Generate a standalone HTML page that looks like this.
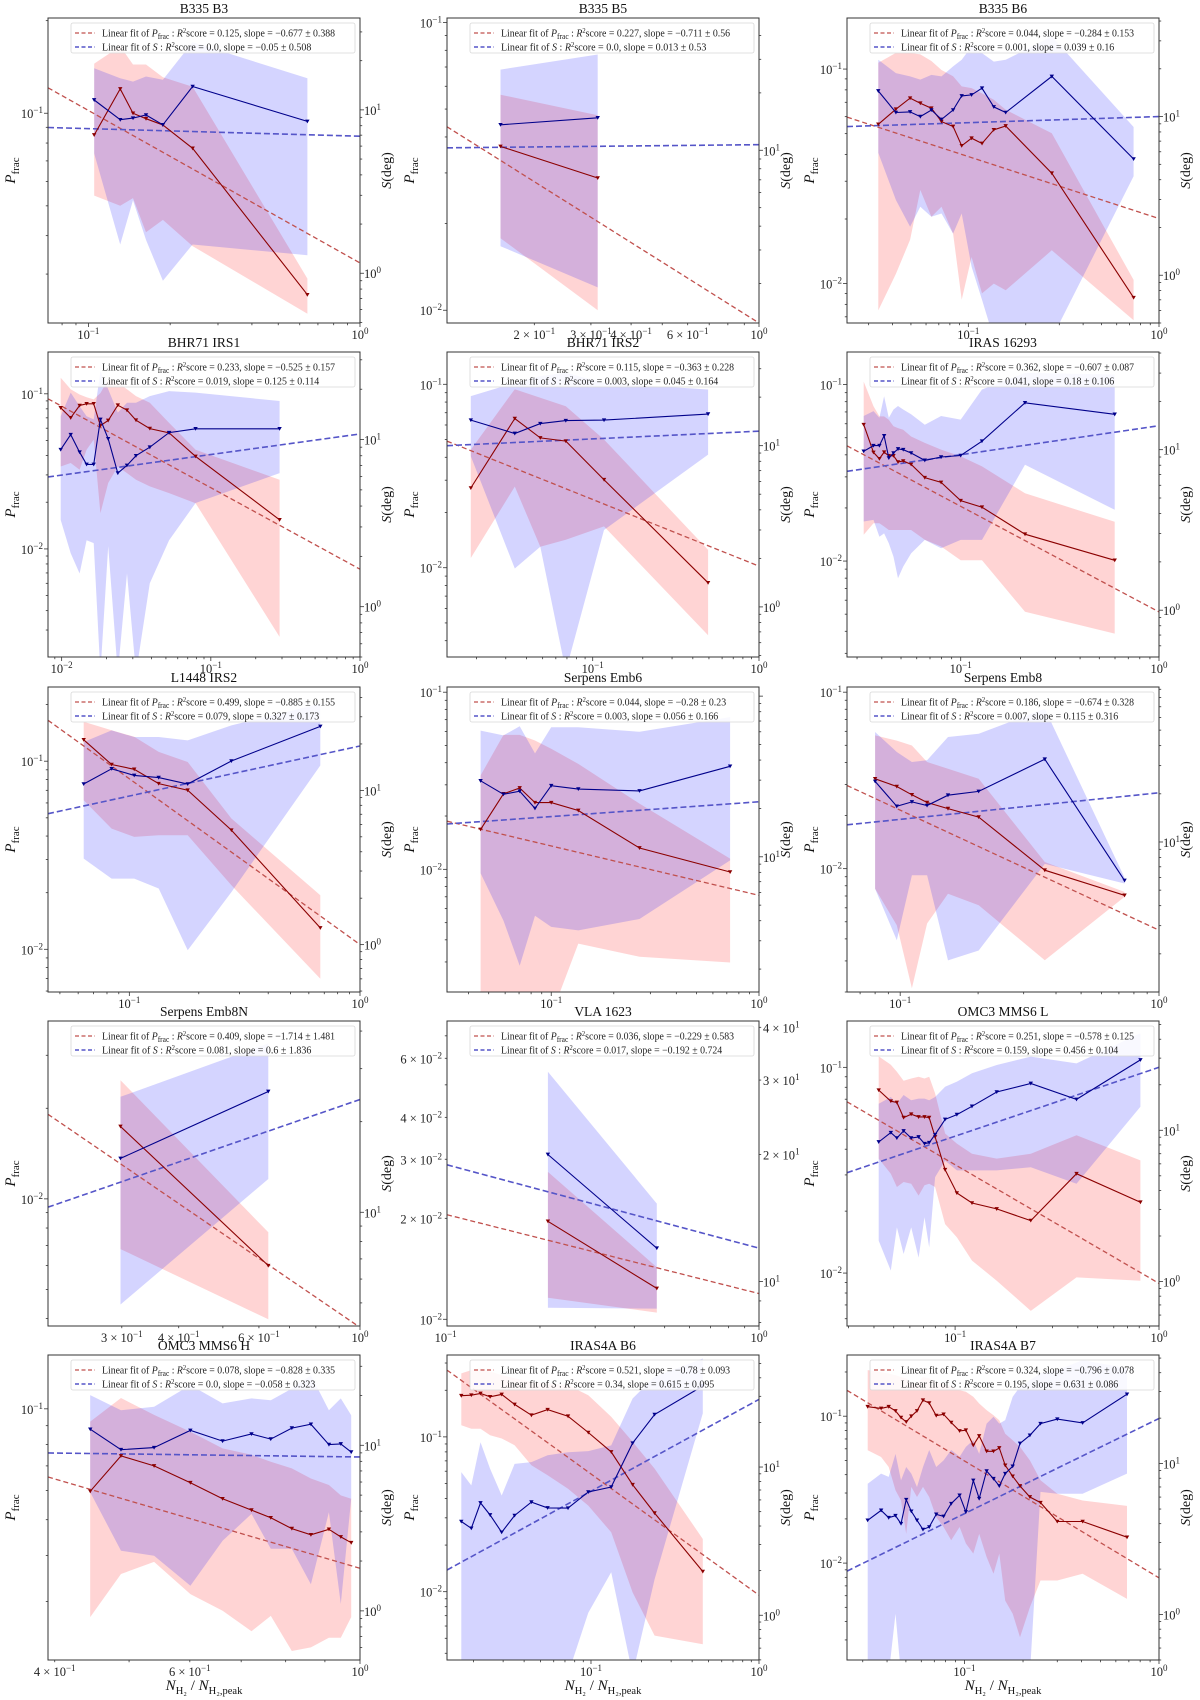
<!DOCTYPE html>
<html><head><meta charset="utf-8"><title>Pfrac and S vs N_H2 panels</title>
<style>
html,body{margin:0;padding:0;background:#fff;}
svg{display:block;font-family:"Liberation Serif","DejaVu Serif",serif;}
</style></head>
<body>
<svg id="fig" width="1200" height="1700" viewBox="0 0 1200 1700" xmlns="http://www.w3.org/2000/svg">
<rect x="0" y="0" width="1200" height="1700" fill="#ffffff"/>
</svg>
<script>
const titles = ["B335 B3","B335 B5","B335 B6","BHR71 IRS1","BHR71 IRS2","IRAS 16293","L1448 IRS2","Serpens Emb6","Serpens Emb8","Serpens Emb8N","VLA 1623","OMC3 MMS6 L","OMC3 MMS6 H","IRAS4A B6","IRAS4A B7"];
const xLims = [[0.071,1],[0.107,1],[0.0231,1],[0.0081,1],[0.0133,1],[0.0267,1],[0.0444,1],[0.0315,1],[0.0623,1],[0.2066,1],[0.101,1],[0.0295,1],[0.392,1],[0.0139,1],[0.0249,1]];
const pLims = [[0.0208,0.204],[0.00903,0.1036],[0.00655,0.173],[0.00201,0.186],[0.00326,0.150],[0.00286,0.153],[0.00593,0.248],[0.00203,0.107],[0.002,0.107],[0.00378,0.039],[0.00955,0.0775],[0.00553,0.168],[0.0208,0.140],[0.00362,0.338],[0.00219,0.261]];
const sLims = [[0.496,36.5],[1.242,49.4],[0.5,41.8],[0.5,33.4],[0.489,38.1],[0.511,40.6],[0.493,46.8],[1.44,114],[1.155,93],[4.19,43.2],[7.85,41.4],[0.508,52.8],[0.505,35.1],[0.499,57],[0.5,52.4]];

const xVals = [
[0.105,0.131,0.146,0.163,0.188,0.242,0.64],
[0.157,0.315],
[0.0337,0.0417,0.0495,0.056,0.064,0.0723,0.0832,0.0923,0.104,0.118,0.136,0.157,0.274,0.736],
[0.00985,0.0115,0.0132,0.0147,0.0164,0.0182,0.0205,0.0238,0.0274,0.0315,0.039,0.0525,0.079,0.289],
[0.0185,0.034,0.0484,0.0689,0.117,0.494],
[0.0324,0.0363,0.0389,0.0411,0.0434,0.0458,0.0483,0.0513,0.0562,0.0659,0.0796,0.1,0.128,0.211,0.598],
[0.0634,0.0838,0.105,0.134,0.179,0.277,0.673],
[0.0457,0.0589,0.0705,0.0835,0.1,0.135,0.266,0.726],
[0.080,0.097,0.111,0.127,0.153,0.201,0.362,0.736],
[0.298,0.629],
[0.212,0.472],
[0.0422,0.0484,0.0518,0.0559,0.0609,0.0662,0.0708,0.0746,0.0798,0.0893,0.102,0.121,0.16,0.235,0.394,0.811],
[0.445,0.488,0.539,0.601,0.662,0.722,0.765,0.815,0.863,0.911,0.944,0.974],
[0.0169,0.0194,0.022,0.0251,0.0294,0.0351,0.0442,0.0552,0.073,0.0964,0.132,0.177,0.239,0.463],
[0.0318,0.0373,0.0408,0.0442,0.0472,0.0502,0.0533,0.057,0.0612,0.0659,0.0716,0.0781,0.0855,0.0944,0.1017,0.111,0.119,0.130,0.141,0.151,0.162,0.177,0.193,0.217,0.246,0.300,0.405,0.685]
];
const pVals = [
[0.085,0.120,0.100,0.096,0.0916,0.0769,0.0257],
[0.0371,0.0288],
[0.0553,0.065,0.0732,0.0693,0.0657,0.0569,0.054,0.0439,0.0476,0.045,0.0521,0.0543,0.0327,0.0086],
[0.0812,0.070,0.084,0.0862,0.0862,0.0624,0.0673,0.0845,0.0784,0.0676,0.0597,0.056,0.0395,0.0154],
[0.0272,0.0651,0.051,0.049,0.0302,0.00828],
[0.0593,0.0413,0.038,0.0414,0.0395,0.0395,0.0364,0.0369,0.0353,0.0297,0.0279,0.022,0.0202,0.0142,0.0101],
[0.130,0.096,0.0906,0.076,0.0701,0.043,0.013],
[0.0168,0.0267,0.0288,0.0238,0.0238,0.0215,0.0132,0.00966],
[0.0323,0.0292,0.0262,0.0237,0.0219,0.0196,0.0098,0.00706],
[0.0174,0.006],
[0.0196,0.01236],
[0.0775,0.0685,0.0675,0.057,0.0592,0.0574,0.0574,0.057,0.0459,0.0318,0.0245,0.0219,0.0205,0.018,0.0304,0.0221],
[0.0597,0.0745,0.070,0.063,0.057,0.0531,0.0506,0.0473,0.0455,0.0471,0.0449,0.0433],
[0.1845,0.186,0.191,0.1815,0.188,0.162,0.138,0.150,0.136,0.1067,0.080,0.0491,0.0322,0.0135],
[0.116,0.113,0.116,0.1087,0.0979,0.0915,0.1,0.1087,0.1285,0.123,0.101,0.103,0.0906,0.0794,0.0803,0.0634,0.0734,0.0577,0.0577,0.0608,0.0463,0.039,0.0335,0.0282,0.0258,0.0192,0.0192,0.015]
];
const pHigh = [
[0.145,0.165,0.144,0.144,0.131,0.122,0.029],
[0.0561,0.0476],
[0.107,0.119,0.119,0.117,0.109,0.099,0.0925,0.083,0.0815,0.077,0.072,0.0646,0.0502,0.0104],
[0.127,0.107,0.099,0.095,0.092,0.101,0.124,0.118,0.107,0.0966,0.0875,0.0649,0.0436,0.0279],
[0.044,0.094,0.0845,0.076,0.05,0.0125],
[0.104,0.0754,0.066,0.066,0.0632,0.058,0.0567,0.0555,0.0508,0.0467,0.0428,0.0392,0.0344,0.0242,0.0167],
[0.162,0.146,0.135,0.112,0.099,0.0496,0.0194],
[0.0339,0.0574,0.0574,0.0534,0.0479,0.0394,0.0235,0.0115],
[0.0569,0.0532,0.0499,0.0402,0.0368,0.0323,0.0109,0.00738],
[0.0248,0.00774],
[0.0275,0.0143],
[0.113,0.103,0.0953,0.086,0.0883,0.09,0.0883,0.09,0.0747,0.0477,0.0426,0.038,0.036,0.038,0.0468,0.0353],
[0.0923,0.107,0.0963,0.0867,0.0781,0.075,0.0718,0.0689,0.0647,0.0621,0.0582,0.057],
[0.257,0.270,0.277,0.264,0.251,0.239,0.227,0.222,0.216,0.186,0.135,0.0929,0.0624,0.0219],
[0.206,0.200,0.195,0.19,0.185,0.181,0.171,0.167,0.185,0.181,0.171,0.167,0.158,0.150,0.1466,0.1355,0.122,0.11,0.1016,0.094,0.076,0.0686,0.0618,0.050,0.0366,0.0297,0.0267,0.0245]
];
const pLow = [
[0.054,0.05,0.053,0.041,0.045,0.037,0.0223],
[0.0178,0.010],
[0.0075,0.0111,0.016,0.0273,0.0205,0.0228,0.0171,0.0084,0.0133,0.009,0.010,0.0093,0.0143,0.00675],
[0.034,0.0358,0.0324,0.0436,0.0507,0.017,0.0266,0.034,0.0308,0.0279,0.0253,0.0229,0.0197,0.00271],
[0.0113,0.0277,0.013,0.0142,0.0168,0.00428],
[0.0141,0.0164,0.0164,0.0157,0.015,0.015,0.015,0.015,0.015,0.0132,0.0121,0.0101,0.0101,0.00516,0.00388],
[0.062,0.0438,0.0396,0.0404,0.0404,0.0219,0.00698],
[0.0015,0.0015,0.0015,0.0015,0.0015,0.00381,0.00321,0.00298],
[0.0077,0.00478,0.0021,0.00489,0.0072,0.0062,0.00303,0.00692],
[0.00681,0.00398],
[0.0116,0.01047],
[0.036,0.0304,0.0262,0.0277,0.0272,0.0238,0.0267,0.0272,0.0262,0.0173,0.0149,0.0115,0.00918,0.00655,0.00953,0.00918],
[0.0272,0.0356,0.0384,0.0314,0.0283,0.0249,0.0274,0.022,0.0225,0.0239,0.0239,0.0272],
[0.119,0.113,0.113,0.1026,0.0976,0.0883,0.0655,0.0565,0.0462,0.036,0.0242,0.0099,0.0052,0.00458],
[0.0586,0.0528,0.0451,0.0313,0.0267,0.0158,0.033,0.0282,0.033,0.0282,0.0206,0.0176,0.0143,0.0176,0.0136,0.0116,0.0158,0.011,0.00846,0.0116,0.00556,0.00452,0.00313,0.00501,0.00762,0.00762,0.00846,0.00571]
];
const sVals = [
[11.5,8.7,8.9,9.3,8.1,13.9,8.5],
[13.6,14.8],
[14.5,10.6,10.7,10.0,11.0,9.6,11.0,13.5,13.7,15.1,11.5,10.6,17.9,5.4],
[8.7,10.7,8.4,7.1,7.1,13.2,10.1,6.3,7.0,8.0,9.0,11.0,11.6,11.6],
[14.4,11.9,13.7,14.3,14.4,15.7],
[9.77,10.6,10.6,12.2,8.87,9.53,10.1,10,9.53,8.58,9.0,9.2,11.3,19.6,16.6],
[11.0,13.8,12.5,12.1,11.0,15.5,26.0],
[29.7,24.5,25.6,20.0,27.7,26.4,25.7,36.6],
[23.9,16.7,17.8,16.9,19.6,20.7,32.9,5.75],
[15.1,25.2],
[20.0,12.0],
[8.37,9.65,8.89,9.9,8.89,9.03,8.16,8.28,9.36,11.8,12.7,14.4,17.9,20.4,16.0,29.2],
[12.5,9.41,9.68,12.3,10.6,11.7,10.9,12.7,13.4,10.1,10.2,9.1],
[4.29,3.86,5.73,4.75,3.63,4.71,5.8,5.3,5.28,6.78,7.33,14.5,22.6,35.2],
[4.21,4.9,4.38,4.52,4.0,5.77,4.83,4.21,3.66,3.8,4.61,4.47,5.43,6.17,4.78,7.74,5.86,8.93,7.94,7.11,8.58,9.6,13.6,15.4,18.4,19.7,18.6,28.8]
];
const sHigh = [
[18,15.6,14.9,16,15.3,26,15.6],
[26.5,31.8],
[22.8,18.8,17.9,17.1,18.3,17.9,20.7,22.8,27.7,25.1,22.2,22.8,32,8.6],
[13.8,19.1,15.8,13.8,13.2,25.7,20,14.5,16.6,16.6,18.2,19.5,19.1,17.0],
[20.3,24.5,27,28.3,24.5,22.3],
[16.2,17.4,15.8,21.5,15.8,17.8,18.7,17.8,16.6,14.3,16.2,15.4,23.7,30.1,29.4],
[20.6,24.5,22.2,22.2,21.1,26.4,36.5],
[61,57,65,44,64,64,60,74],
[48.7,36.5,31.6,32.4,45.3,47.5,68,6.0],
[24.2,36.4],
[31.4,15.3],
[15.0,16.6,15.0,17.1,15.8,16.2,16.2,15.8,16.6,19.4,21.0,23.8,27.0,30.7,27.7,43.8],
[20.1,16.3,17.1,23.1,17.9,19.2,18.7,22.0,26.5,16.3,19.2,15.2],
[9.25,7.52,14.7,9.75,6.43,10.5,10.8,12.0,12.6,12.8,14.0,29.0,40.6,54],
[7.36,8.59,8.16,11.6,7.74,9.5,8.59,7.0,9.5,12.3,9.5,10.5,12.3,11.1,12.9,14.3,11.6,18.4,20.4,18.4,19.4,27.7,32.3,35.7,39.6,41.6,48.5,42.8]
];
const sLow = [
[5.4,1.5,2.8,1.6,0.9,1.5,1.29],
[3.14,1.91],
[5.9,2.98,2.02,2.7,2.34,2.45,1.83,2.45,1.13,0.7,0.4,0.4,0.4,4.2],
[3.3,2.09,1.58,2.5,2.4,0.4,2.3,0.4,1.58,0.4,1.38,2.5,4.17,6.3],
[8.6,1.73,2.36,0.4,3.0,8.8],
[3.57,3.65,2.87,3.01,2.61,2.15,1.58,1.87,2.26,2.74,2.43,2.74,2.74,8.05,4.22],
[3.61,2.68,2.68,2.31,0.92,2.19,14.5],
[7.9,4.0,2.1,4.3,3.66,3.48,4.1,9.5],
[5.1,2.43,6.2,6.2,1.82,2.1,7.3,5.5],
[4.94,12.9],
[8.67,8.63],
[1.86,1.18,2.28,1.52,2.28,1.44,2.66,1.68,4.9,6.3,5.43,5.43,5.43,5.7,4.43,14.3],
[5.2,2.31,2.15,1.42,2.65,3.85,2.37,2.37,1.45,3.94,1.1,4.75],
[0.4,0.4,0.4,0.4,0.4,0.4,0.4,0.4,0.4,1.04,1.95,0.4,1.75,23],
[0.4,0.4,0.4,1.01,0.4,0.4,0.4,0.4,0.4,0.4,0.4,0.4,0.4,0.4,0.4,0.4,0.4,0.4,0.4,0.4,0.4,0.4,0.4,0.4,6.49,6.32,6.32,8.59]
];
const pFits = [[0.121,0.0326],[0.0434,0.00903],[0.0597,0.0201],[0.0929,0.0074],[0.049,0.0102],[0.045,0.00515],[0.165,0.0106],[0.0187,0.00713],[0.0296,0.00448],[0.0191,0.00374],[0.0205,0.01193],[0.068,0.00891],[0.0653,0.0369],[0.270,0.0095],[0.150,0.00794]];
const sFits = [[7.8,6.9],[10.3,10.7],[8.65,10.0],[5.97,10.8],[10.0,12.3],[7.33,14.1],[7.06,19.4],[16.0,22.0],[12.8,20.3],[10.4,23.7],[18.9,12.0],[5.24,26.1],[8.99,8.5],[2.02,28.6],[1.94,19.9]];
const xTickVals = [[0.1,1],[0.2,0.3,0.4,0.6,1],[0.1,1],[0.01,0.1,1],[0.1,1],[0.1,1],[0.1,1],[0.1,1],[0.1,1],[0.3,0.4,0.6,1],[0.1,1],[0.1,1],[0.4,0.6,1],[0.1,1],[0.1,1]];
const pTickVals = [[0.1],[0.1,0.01],[0.1,0.01],[0.1,0.01],[0.1,0.01],[0.1,0.01],[0.1,0.01],[0.1,0.01],[0.1,0.01],[0.01],[0.06,0.04,0.03,0.02,0.01],[0.1,0.01],[0.1],[0.1,0.01],[0.1,0.01]];
const sTickVals = [[10,1],[10],[10,1],[10,1],[10,1],[10,1],[10,1],[10],[10],[10],[40,30,20,10],[10,1],[10,1],[10,1],[10,1]];
const r2P = ["0.125","0.227","0.044","0.233","0.115","0.362","0.499","0.044","0.186","0.409","0.036","0.251","0.078","0.521","0.324"];
const slopeP = ["−0.677 ± 0.388","−0.711 ± 0.56","−0.284 ± 0.153","−0.525 ± 0.157","−0.363 ± 0.228","−0.607 ± 0.087","−0.885 ± 0.155","−0.28 ± 0.23","−0.674 ± 0.328","−1.714 ± 1.481","−0.229 ± 0.583","−0.578 ± 0.125","−0.828 ± 0.335","−0.78 ± 0.093","−0.796 ± 0.078"];
const r2S = ["0.0","0.0","0.001","0.019","0.003","0.041","0.079","0.003","0.007","0.081","0.017","0.159","0.0","0.34","0.195"];
const slopeS = ["−0.05 ± 0.508","0.013 ± 0.53","0.039 ± 0.16","0.125 ± 0.114","0.045 ± 0.164","0.18 ± 0.106","0.327 ± 0.173","0.056 ± 0.166","0.115 ± 0.316","0.6 ± 1.836","−0.192 ± 0.724","0.456 ± 0.104","−0.058 ± 0.323","0.615 ± 0.095","0.631 ± 0.086"];

const NS = 'http://www.w3.org/2000/svg';
const svg = document.getElementById('fig');
const colX = [48,447,847], rowY = [18,352,687,1021,1355], W = 312, H = 305;

function el(tag, parent){ const e = document.createElementNS(NS, tag); parent.appendChild(e); return e; }
function attrs(e, o){ for (const k in o) e.setAttribute(k, o[k]); return e; }
function logScale(lim, a, b){ const l0 = Math.log10(lim[0]), l1 = Math.log10(lim[1]); return v => a + (Math.log10(v) - l0) / (l1 - l0) * (b - a); }
function slug(s){ return s.toLowerCase().replace(/[^a-z0-9]+/g,'-'); }

function sup(parent, base, exp, fs){
  const t1 = el('tspan', parent); t1.textContent = base;
  const t2 = el('tspan', parent); attrs(t2, {dy: -5, 'font-size': fs}); t2.textContent = exp;
}
function tickText(parent, v, x, y, anchor){
  const e = Math.floor(Math.log10(v) + 1e-9);
  const m = Math.round(v / Math.pow(10, e));
  const t = el('text', parent);
  attrs(t, {x: x, y: y, 'text-anchor': anchor, 'font-size': 12.5, fill: '#222'});
  const expStr = e < 0 ? '−' + Math.abs(e) : String(e);
  sup(t, (m !== 1 ? m + ' × ' : '') + '10', expStr, 9);
  return t;
}

for (let i = 0; i < titles.length; i++){
  const L = colX[i % 3], T = rowY[Math.floor(i / 3)];
  const fx = logScale(xLims[i], L, L + W);
  const fp = logScale(pLims[i], T + H, T);
  const fs = logScale(sLims[i], T + H, T);
  const g = el('g', svg);
  
  

  const cp = el('clipPath', g); cp.setAttribute('id', 'clip' + i);
  attrs(el('rect', cp), {x: L, y: T, width: W, height: H});

  const title = el('text', g);
  attrs(title, {x: L + W / 2, y: T - 5, 'text-anchor': 'middle', 'font-size': 13.5, fill: '#111'});
  title.textContent = titles[i];
  
  

  const plot = el('g', g); plot.setAttribute('clip-path', 'url(#clip' + i + ')');
  
  

  const xs = xVals[i];
  function band(hi, lo, f, color, name){
    const pts = [];
    for (let k = 0; k < xs.length; k++) pts.push(fx(xs[k]).toFixed(1) + ',' + f(hi[k]).toFixed(1));
    for (let k = xs.length - 1; k >= 0; k--) pts.push(fx(xs[k]).toFixed(1) + ',' + f(lo[k]).toFixed(1));
    const p = el('polygon', plot);
    attrs(p, {points: pts.join(' '), fill: color, 'fill-opacity': 0.17, stroke: 'none'});
    
    
  }
  band(pHigh[i], pLow[i], fp, '#ff0000', 'pfrac-error-band');
  band(sHigh[i], sLow[i], fs, '#0000ff', 'angle-dispersion-error-band');

  const xl = xLims[i];
  const fitP = el('line', plot);
  attrs(fitP, {x1: fx(xl[0]), y1: fp(pFits[i][0]), x2: fx(xl[1]), y2: fp(pFits[i][1]), stroke: '#c0504d', 'stroke-width': 1.3, 'stroke-dasharray': '5,3'});
  
  
  const fitS = el('line', plot);
  attrs(fitS, {x1: fx(xl[0]), y1: fs(sFits[i][0]), x2: fx(xl[1]), y2: fs(sFits[i][1]), stroke: '#5555c8', 'stroke-width': 1.6, 'stroke-dasharray': '6,3'});
  
  

  function series(vals, f, color, name){
    const pts = xs.map((x, k) => fx(x).toFixed(1) + ',' + f(vals[k]).toFixed(1)).join(' ');
    const pl = el('polyline', plot);
    attrs(pl, {points: pts, fill: 'none', stroke: color, 'stroke-width': 1.1});
    
    
    for (let k = 0; k < xs.length; k++){
      const cx = fx(xs[k]), cy = f(vals[k]);
      const m = el('path', plot);
      attrs(m, {d: 'M' + (cx - 2.2) + ',' + (cy - 1.8) + 'L' + (cx + 2.2) + ',' + (cy - 1.8) + 'L' + cx + ',' + (cy + 2) + 'Z', fill: color});
      
      
    }
  }
  series(pVals[i], fp, '#8b0000', 'pfrac');
  series(sVals[i], fs, '#00008b', 'angle-dispersion');

  const frame = el('rect', g);
  attrs(frame, {x: L, y: T, width: W, height: H, fill: 'none', stroke: '#333', 'stroke-width': 1});
  
  

  const ticks = el('g', g);
  
  
  function tickMarks(lim, f, kind){
    const d0 = Math.floor(Math.log10(lim[0])), d1 = Math.ceil(Math.log10(lim[1]));
    for (let d = d0; d <= d1; d++){
      for (let k = 1; k <= 9; k++){
        const v = k * Math.pow(10, d);
        if (v < lim[0] * 0.9999 || v > lim[1] * 1.0001) continue;
        const len = k === 1 ? 4 : 2.2;
        const p = f(v);
        const ln = el('line', ticks);
        if (kind === 'x') attrs(ln, {x1: p, x2: p, y1: T + H, y2: T + H + len});
        else if (kind === 'l') attrs(ln, {x1: L, x2: L - len, y1: p, y2: p});
        else attrs(ln, {x1: L + W, x2: L + W + len, y1: p, y2: p});
        attrs(ln, {stroke: '#333', 'stroke-width': 0.8});
      }
    }
  }
  tickMarks(xl, fx, 'x'); tickMarks(pLims[i], fp, 'l'); tickMarks(sLims[i], fs, 'r');

  xTickVals[i].forEach(v => {
    const t = tickText(g, v, fx(v), T + H + 16, 'middle');
    
    
  });
  pTickVals[i].forEach(v => {
    const t = tickText(g, v, L - 5, fp(v) + 5, 'end');
    
    
  });
  sTickVals[i].forEach(v => {
    const t = tickText(g, v, L + W + 4, fs(v) + 5, 'start');
    
    
  });

  const showAxisTitles = titles[i] !== 'VLA 1623';
  if (showAxisTitles){
    const yl = el('text', g);
    attrs(yl, {transform: 'translate(' + (L - 33) + ',' + (T + H / 2) + ') rotate(-90)', 'text-anchor': 'middle', 'font-size': 15, fill: '#111'});
    const yl1 = el('tspan', yl); yl1.setAttribute('font-style', 'italic'); yl1.textContent = 'P';
    const yl2 = el('tspan', yl); attrs(yl2, {dy: 4, 'font-size': 11}); yl2.textContent = 'frac';
    
    

    const yr = el('text', g);
    attrs(yr, {transform: 'translate(' + (L + W + 31) + ',' + (T + H / 2) + ') rotate(-90)', 'text-anchor': 'middle', 'font-size': 14, fill: '#111'});
    const yr1 = el('tspan', yr); yr1.setAttribute('font-style', 'italic'); yr1.textContent = 'S';
    const yr2 = el('tspan', yr); yr2.textContent = '(deg)';
    
    
  }

  const lg = el('g', g);
  
  
  attrs(el('rect', lg), {x: L + 23, y: T + 5, width: W - 28, height: 30, rx: 2, fill: '#fff', 'fill-opacity': 0.85, stroke: '#d8d8d8', 'stroke-width': 0.8});
  attrs(el('line', lg), {x1: L + 27, x2: L + 47, y1: T + 15, y2: T + 15, stroke: '#c0504d', 'stroke-width': 1.3, 'stroke-dasharray': '4,2.5'});
  attrs(el('line', lg), {x1: L + 27, x2: L + 47, y1: T + 29, y2: T + 29, stroke: '#5555c8', 'stroke-width': 1.5, 'stroke-dasharray': '4,2.5'});

  const e1 = el('text', lg);
  const len1 = Math.min(W - 62, (30 + r2P[i].length + slopeP[i].length + 10) * 3.95);
  attrs(e1, {x: L + 54, y: T + 18.5, 'font-size': 10.5, fill: '#222', textLength: len1, lengthAdjust: 'spacingAndGlyphs'});
  let t = el('tspan', e1); t.textContent = 'Linear fit of ';
  t = el('tspan', e1); t.setAttribute('font-style', 'italic'); t.textContent = 'P';
  t = el('tspan', e1); attrs(t, {dy: 2.5, 'font-size': 8}); t.textContent = 'frac';
  t = el('tspan', e1); attrs(t, {dy: -2.5}); t.textContent = ' :  ';
  t = el('tspan', e1); t.setAttribute('font-style', 'italic'); t.textContent = 'R';
  t = el('tspan', e1); attrs(t, {dy: -3.5, 'font-size': 7}); t.textContent = '2';
  t = el('tspan', e1); attrs(t, {dy: 3.5}); t.textContent = 'score = ' + r2P[i] + ', slope = ' + slopeP[i];
  
  

  const e2 = el('text', lg);
  const len2 = Math.min(W - 62, (27 + r2S[i].length + slopeS[i].length + 10) * 3.95);
  attrs(e2, {x: L + 54, y: T + 32.5, 'font-size': 10.5, fill: '#222', textLength: len2, lengthAdjust: 'spacingAndGlyphs'});
  t = el('tspan', e2); t.textContent = 'Linear fit of ';
  t = el('tspan', e2); t.setAttribute('font-style', 'italic'); t.textContent = 'S';
  t = el('tspan', e2); t.textContent = ' :  ';
  t = el('tspan', e2); t.setAttribute('font-style', 'italic'); t.textContent = 'R';
  t = el('tspan', e2); attrs(t, {dy: -3.5, 'font-size': 7}); t.textContent = '2';
  t = el('tspan', e2); attrs(t, {dy: 3.5}); t.textContent = 'score = ' + r2S[i] + ', slope = ' + slopeS[i];
  
  

  if (Math.floor(i / 3) === 4){
    const xt = el('text', g);
    attrs(xt, {x: L + W / 2, y: T + H + 30, 'text-anchor': 'middle', 'font-size': 15, fill: '#111'});
    let s = el('tspan', xt); s.setAttribute('font-style', 'italic'); s.textContent = 'N';
    s = el('tspan', xt); attrs(s, {dy: 4, 'font-size': 10.5}); s.textContent = 'H₂';
    s = el('tspan', xt); attrs(s, {dy: -4}); s.textContent = ' / ';
    s = el('tspan', xt); s.setAttribute('font-style', 'italic'); s.textContent = 'N';
    s = el('tspan', xt); attrs(s, {dy: 4, 'font-size': 10.5}); s.textContent = 'H₂,peak';
    
    
  }
}
</script>
</body></html>
